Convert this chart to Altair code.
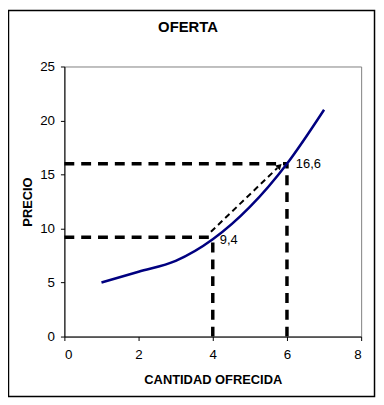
import altair as alt
import pandas as pd

# Supply curve
cantidad = [1, 2, 3, 4, 5, 6, 7]
precio = [5, 6, 7, 9, 12, 16, 21]

# Dashed guide lines (start/end points)
guia_x1 = [0, 4, 0, 6]
guia_x2 = [4, 4, 6, 6]
guia_y1 = [9.2, 0, 16.0, 0]
guia_y2 = [9.2, 9.2, 16.0, 16.0]

# Thin dashed arrow between the two points
flecha_x1 = [3.95]
flecha_x2 = [5.74]
flecha_y1 = [9.7]
flecha_y2 = [15.6]
punta_x = [5.8]
punta_y = [15.8]

# Point labels
etiqueta_texto = ["9,4", "16,6"]
etiqueta_x = [4.19, 6.24]
etiqueta_y = [8.9, 16.0]

titulo = ["OFERTA"]

FONT = "Liberation Sans"

curva = pd.DataFrame({"cantidad": cantidad, "precio": precio})
guias = pd.DataFrame({"x1": guia_x1, "x2": guia_x2, "y1": guia_y1, "y2": guia_y2})
flecha = pd.DataFrame({"x1": flecha_x1, "x2": flecha_x2, "y1": flecha_y1, "y2": flecha_y2})
punta = pd.DataFrame({"x": punta_x, "y": punta_y})
etiquetas = pd.DataFrame({"t": etiqueta_texto, "x": etiqueta_x, "y": etiqueta_y})
marco = pd.DataFrame({"k": [0]})
tit = pd.DataFrame({"t": titulo})

xscale = alt.Scale(domain=[0, 8], nice=False)
yscale = alt.Scale(domain=[0, 25], nice=False)

xaxis = alt.Axis(
    values=[0, 2, 4, 6, 8], title="CANTIDAD OFRECIDA", grid=False,
    tickSize=4, labelPadding=7, titleY=47, titleBaseline="alphabetic",
)
yaxis = alt.Axis(
    values=[0, 5, 10, 15, 20, 25], title="PRECIO", grid=False,
    tickSize=4, labelPadding=6, titleX=-33, titleY=136.5,
    titleBaseline="alphabetic", titleAlign="center", titleAngle=-90,
)

base_x = alt.X("x1:Q", scale=xscale, axis=xaxis)
base_y = alt.Y("y1:Q", scale=yscale, axis=yaxis)

lineas_guia = alt.Chart(guias).mark_rule(
    color="black", strokeWidth=3.5, strokeDash=[10, 7]
).encode(x=base_x, x2="x2:Q", y=base_y, y2="y2:Q")

linea_flecha = alt.Chart(flecha).mark_rule(
    color="black", strokeWidth=2, strokeDash=[6, 4]
).encode(x="x1:Q", x2="x2:Q", y="y1:Q", y2="y2:Q")

punta_flecha = alt.Chart(punta).mark_point(
    shape="triangle-up", filled=True, color="black", size=45, angle=46, opacity=1
).encode(x="x:Q", y="y:Q")

linea_oferta = alt.Chart(curva).mark_line(
    color="#000080", strokeWidth=2.5, interpolate="monotone"
).encode(x="cantidad:Q", y="precio:Q")

textos = alt.Chart(etiquetas).mark_text(
    align="left", baseline="middle", font=FONT, fontSize=13, color="black"
).encode(x="x:Q", y="y:Q", text="t:N")

titulo_txt = alt.Chart(tit).mark_text(
    align="center", baseline="alphabetic", font=FONT, fontSize=15,
    fontWeight="bold", color="black"
).encode(x=alt.value(125), y=alt.value(-35), text="t:N")

borde = alt.Chart(marco).mark_rect(
    fill=None, stroke="black", strokeWidth=1.5
).encode(
    x=alt.value(-56.5), x2=alt.value(313.5), y=alt.value(-56.5), y2=alt.value(333.5)
)

chart = alt.layer(
    lineas_guia, linea_flecha, punta_flecha, linea_oferta, textos, titulo_txt, borde
).properties(
    width=300, height=273,
    autosize=alt.AutoSizeParams(type="none"),
    padding={"left": 57, "top": 57, "right": 15, "bottom": 62},
    background="white",
).configure_view(
    stroke="#808080", strokeWidth=1
).configure_axis(
    domainColor="black", tickColor="black", labelColor="black", titleColor="black",
    labelFont=FONT, labelFontSize=13.5, titleFont=FONT, titleFontSize=13,
    titleFontWeight="bold", domainWidth=1, tickWidth=1,
)

chart.save("out.html", embed_options={"renderer": "svg", "actions": False})
